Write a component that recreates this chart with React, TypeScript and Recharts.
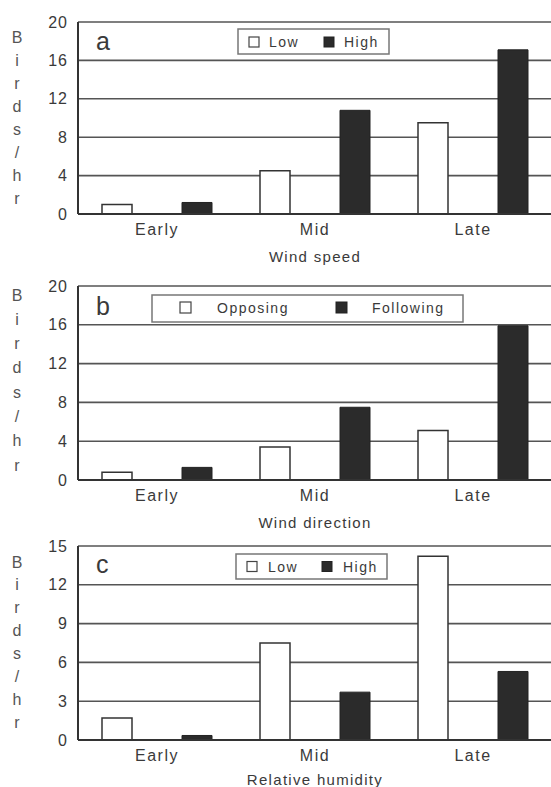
import { BarChart, Bar, XAxis, YAxis, CartesianGrid } from 'recharts';

// categories and values
const periods = ['Early', 'Mid', 'Late'];

const windSpeedLow = [1.0, 4.5, 9.5];
const windSpeedHigh = [1.2, 10.8, 17.1];

const windDirOpposing = [0.8, 3.4, 5.1];
const windDirFollowing = [1.3, 7.5, 15.9];

const humidityLow = [1.7, 7.5, 14.2];
const humidityHigh = [0.35, 3.7, 5.3];

const ticksTo20 = [0, 4, 8, 12, 16, 20];
const ticksTo15 = [0, 3, 6, 9, 12, 15];

const yTitle = ['B', 'i', 'r', 'd', 's', '/', 'h', 'r'];

const INK = '#3a3a3a';
const LINE = '#555';
const DARK = '#2b2b2b';

interface LegendLayout {
  x: number; y: number; w: number; h: number;
  sq: [number, number]; sqY: number; sqSize: number;
  tx: [number, number]; ty: number;
}

interface PanelProps {
  top: number;
  letter: string;
  letterY: number;
  xTitle: string;
  xTitleOffset: number;
  names: [string, string];
  light: number[];
  dark: number[];
  ticks: number[];
  plotHeight: number;
  yTitleTop: number;
  yTitleStep: number;
  legend: LegendLayout;
}

function Panel(p: PanelProps) {
  const rows = periods.map((period, i) => ({ period, light: p.light[i], dark: p.dark[i] }));
  const height = 22 + p.plotHeight + 52;
  const lg = p.legend;
  return (
    <div style={{ position: 'absolute', left: 0, top: p.top, width: 560, height }}>
      <BarChart
        width={560}
        height={height}
        data={rows}
        margin={{ top: 22, right: 8, left: 38, bottom: 0 }}
        barSize={30}
        barGap={50}
      >
        <CartesianGrid vertical={false} stroke={LINE} strokeWidth={1.6} />
        <XAxis
          dataKey="period"
          height={52}
          tickSize={0}
          tickMargin={10}
          tickLine={false}
          axisLine={{ stroke: '#333', strokeWidth: 2 }}
          tick={{ fontSize: 16, fill: INK, style: { letterSpacing: 1.5 } }}
          label={{
            value: p.xTitle,
            position: 'insideBottom',
            offset: p.xTitleOffset,
            fontSize: 15,
            fill: INK,
            style: { letterSpacing: 1.3 },
          }}
        />
        <YAxis
          type="number"
          domain={[0, p.ticks[p.ticks.length - 1]]}
          ticks={p.ticks}
          width={40}
          tickSize={0}
          tickMargin={10}
          tickLine={false}
          axisLine={{ stroke: '#333', strokeWidth: 2 }}
          tick={{ fontSize: 16, fill: INK, style: { letterSpacing: 1 } }}
        />
        <Bar dataKey="light" fill="#fff" stroke="#333" strokeWidth={1.5} isAnimationActive={false} />
        <Bar dataKey="dark" fill={DARK} stroke="#222" strokeWidth={1} isAnimationActive={false} />
      </BarChart>
      <svg
        width={560}
        height={height}
        style={{ position: 'absolute', left: 0, top: 0, pointerEvents: 'none' }}
      >
        {yTitle.map((ch, i) => (
          <text
            key={i}
            x={17}
            y={22 + p.yTitleTop + i * p.yTitleStep}
            textAnchor="middle"
            dominantBaseline="central"
            fontSize={16}
            fill="#555"
          >
            {ch}
          </text>
        ))}
        <text x={96} y={22 + p.letterY} fontSize={25} fill={INK}>{p.letter}</text>
        <rect x={lg.x} y={22 + lg.y} width={lg.w} height={lg.h} fill="#fff" stroke="#777" strokeWidth={1.5} />
        <rect x={lg.sq[0]} y={22 + lg.sqY} width={lg.sqSize} height={lg.sqSize} fill="#fff" stroke="#444" strokeWidth={1.2} />
        <rect x={lg.sq[1]} y={22 + lg.sqY} width={lg.sqSize} height={lg.sqSize} fill={DARK} stroke="#222" strokeWidth={1} />
        <text x={lg.tx[0]} y={22 + lg.ty} fontSize={14} fill={INK} style={{ letterSpacing: 1.5 }}>{p.names[0]}</text>
        <text x={lg.tx[1]} y={22 + lg.ty} fontSize={14} fill={INK} style={{ letterSpacing: 1.5 }}>{p.names[1]}</text>
      </svg>
    </div>
  );
}

export default function App() {
  return (
    <div
      style={{
        position: 'absolute', left: 0, top: 0, width: 551, height: 787,
        overflow: 'hidden', background: '#fff', fontFamily: '"Liberation Sans", Arial, sans-serif',
      }}
    >
      <Panel
        top={0}
        letter="a"
        letterY={28}
        xTitle="Wind speed"
        xTitleOffset={4}
        names={['Low', 'High']}
        light={windSpeedLow}
        dark={windSpeedHigh}
        ticks={ticksTo20}
        plotHeight={192}
        yTitleTop={15}
        yTitleStep={23}
        legend={{ x: 238, y: 7, w: 151, h: 25, sq: [249, 324], sqY: 15, sqSize: 10, tx: [269, 344], ty: 24.5 }}
      />
      <Panel
        top={264}
        letter="b"
        letterY={29}
        xTitle="Wind direction"
        xTitleOffset={4}
        names={['Opposing', 'Following']}
        light={windDirOpposing}
        dark={windDirFollowing}
        ticks={ticksTo20}
        plotHeight={194}
        yTitleTop={9}
        yTitleStep={24.3}
        legend={{ x: 152, y: 9, w: 311, h: 27, sq: [180, 336], sqY: 16, sqSize: 11, tx: [217, 372], ty: 26.5 }}
      />
      <Panel
        top={524}
        letter="c"
        letterY={27}
        xTitle="Relative humidity"
        xTitleOffset={7}
        names={['Low', 'High']}
        light={humidityLow}
        dark={humidityHigh}
        ticks={ticksTo15}
        plotHeight={194}
        yTitleTop={16}
        yTitleStep={22.9}
        legend={{ x: 236, y: 8, w: 151, h: 25, sq: [247, 322], sqY: 15.5, sqSize: 10, tx: [268, 343], ty: 25.5 }}
      />
    </div>
  );
}
